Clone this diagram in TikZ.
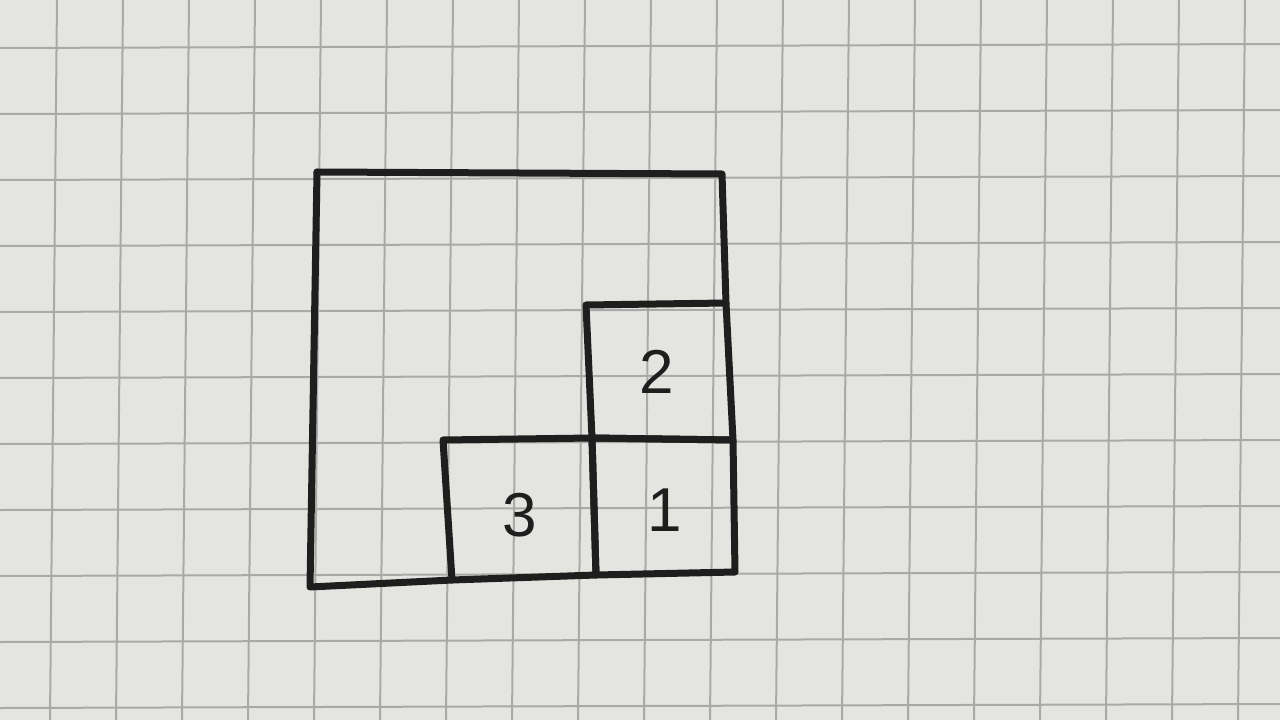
\documentclass[tikz,border=0pt]{standalone}
\usepackage{fontspec}
\setmainfont{Liberation Sans}
\definecolor{paper}{HTML}{E4E4E1}
\definecolor{gridc}{HTML}{A9AAA8}
\definecolor{ink}{HTML}{1E1E1E}
\begin{document}
\begin{tikzpicture}[x=1pt,y=-1pt,
  gridline/.style={draw=gridc,line width=2pt},
  inkline/.style={draw=ink,line width=7pt,line cap=round,line join=round},
  digit/.style={text=ink,font=\fontsize{62}{62}\selectfont}]
\fill[paper] (0,0) rectangle (1280,720);
\useasboundingbox (0,0) rectangle (1280,720);
\foreach \k in {-1,...,19} {
  \draw[gridline] ({57+66*\k},0) -- ({50+66*\k},720);
}
\foreach \k in {-1,...,11} {
  \draw[gridline] (0,{48+66*\k}) -- (1280,{44+66*\k});
}
% big square
\draw[inkline] (317,172) -- (722,174) -- (726,303);
\draw[inkline] (317,172) -- (310,587) -- (452,580);
% square 2
\draw[inkline] (586,305) -- (726,303) -- (733,440) -- (592,438) -- cycle;
% square 1
\draw[inkline] (592,438) -- (733,440) -- (735,572) -- (596,575) -- cycle;
% square 3
\draw[inkline] (443,440) -- (592,438) -- (596,575) -- (452,580) -- cycle;
\node[digit] (two) at (657,372) {2};
\node[digit] (one) at (665,510) {1};
\node[digit] (three) at (520,515) {3};
\end{tikzpicture}
\end{document}
